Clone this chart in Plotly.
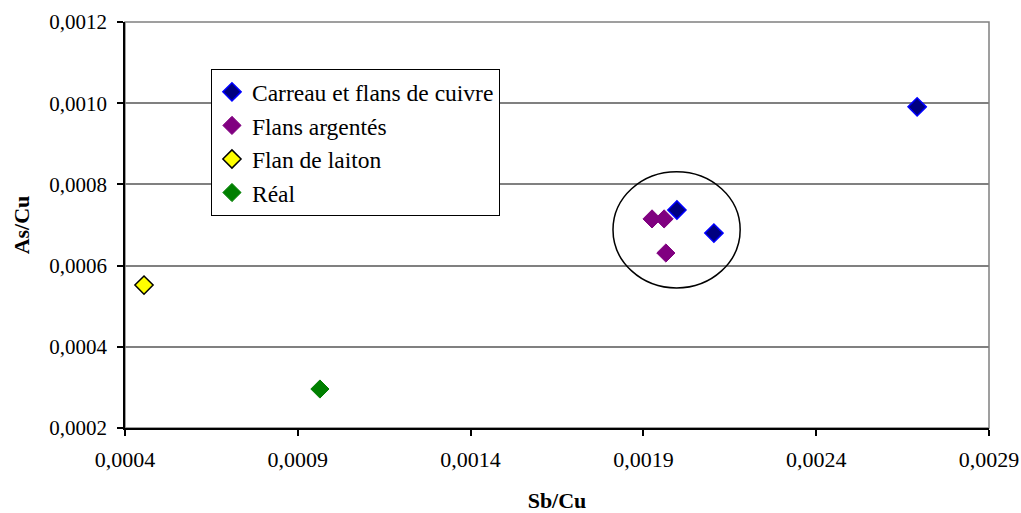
import plotly.graph_objects as go

# ---- data ----
carreau_x = [0.002692, 0.002104, 0.001997]
carreau_y = [0.000991, 0.000680, 0.000737]

argentes_x = [0.001925, 0.001960, 0.001965]
argentes_y = [0.000715, 0.000715, 0.000631]

laiton_x = [0.000455]
laiton_y = [0.000552]

real_x = [0.000964]
real_y = [0.000296]

x_ticks = [0.0004, 0.0009, 0.0014, 0.0019, 0.0024, 0.0029]
y_ticks = [0.0002, 0.0004, 0.0006, 0.0008, 0.0010, 0.0012]

# ellipse highlighting the cluster (data coordinates)
ellipse_x = [0.001812, 0.002180]
ellipse_y = [0.000545, 0.000831]

FONT = "Liberation Serif"

fig = go.Figure()

def add(name, xs, ys, fill, border, lw):
    fig.add_trace(go.Scatter(
        x=xs, y=ys, mode="markers", name=name,
        marker=dict(symbol="diamond", size=14, color=fill,
                    line=dict(color=border, width=lw)),
    ))

add("Carreau et flans de cuivre", carreau_x, carreau_y, "#000080", "#0000FF", 1.5)
add("Flans argentés", argentes_x, argentes_y, "#800080", "#800080", 1)
add("Flan de laiton", laiton_x, laiton_y, "#FFFF00", "#000000", 1.5)
add("Réal", real_x, real_y, "#008000", "#008000", 1)

# plot-area border (gray) – left/bottom axes drawn over in black
fig.add_shape(type="rect", xref="paper", yref="paper", x0=0, x1=1, y0=0, y1=1,
              line=dict(color="#808080", width=1.5), layer="below")

fig.add_shape(type="circle", xref="x", yref="y",
              x0=ellipse_x[0], x1=ellipse_x[1], y0=ellipse_y[0], y1=ellipse_y[1],
              line=dict(color="black", width=1.5), layer="above")

fig.update_layout(
    width=1021, height=513,
    margin=dict(l=125, r=32, t=22, b=85, autoexpand=False),
    paper_bgcolor="white", plot_bgcolor="white",
    separators=", ",
    font=dict(family=FONT, size=21, color="black"),
    showlegend=True,
    legend=dict(
        x=0.0995, y=0.884, xanchor="left", yanchor="top",
        bgcolor="white", bordercolor="black", borderwidth=1,
        font=dict(family=FONT, size=23.5, color="black"),
        itemwidth=30, tracegroupgap=0,
    ),
)

fig.update_xaxes(
    range=[x_ticks[0], x_ticks[-1]], tickvals=x_ticks, tickformat=".4f",
    showgrid=False, zeroline=False, automargin=False,
    showline=True, linecolor="black", linewidth=1.5,
    ticks="outside", ticklen=6, tickcolor="black", tickwidth=1.5,
    ticklabelstandoff=5,
    tickfont=dict(family=FONT, size=22, color="black"),
    title=dict(text="<b>Sb/Cu</b>", standoff=23,
               font=dict(family=FONT, size=22, color="black")),
)
fig.update_yaxes(
    range=[y_ticks[0], y_ticks[-1]], tickvals=y_ticks, tickformat=".4f",
    showgrid=True, gridcolor="#808080", gridwidth=1.5, zeroline=False,
    automargin=False,
    showline=True, linecolor="black", linewidth=1.5,
    ticks="outside", ticklen=6, tickcolor="black", tickwidth=1.5,
    ticklabelstandoff=6,
    tickfont=dict(family=FONT, size=21, color="black"),
    title=dict(text="<b>As/Cu</b>", standoff=14,
               font=dict(family=FONT, size=22, color="black")),
)

fig.write_html("out.html",
               config={"displayModeBar": False},
               post_script="document.body.style.margin='0';document.body.style.padding='0';")
